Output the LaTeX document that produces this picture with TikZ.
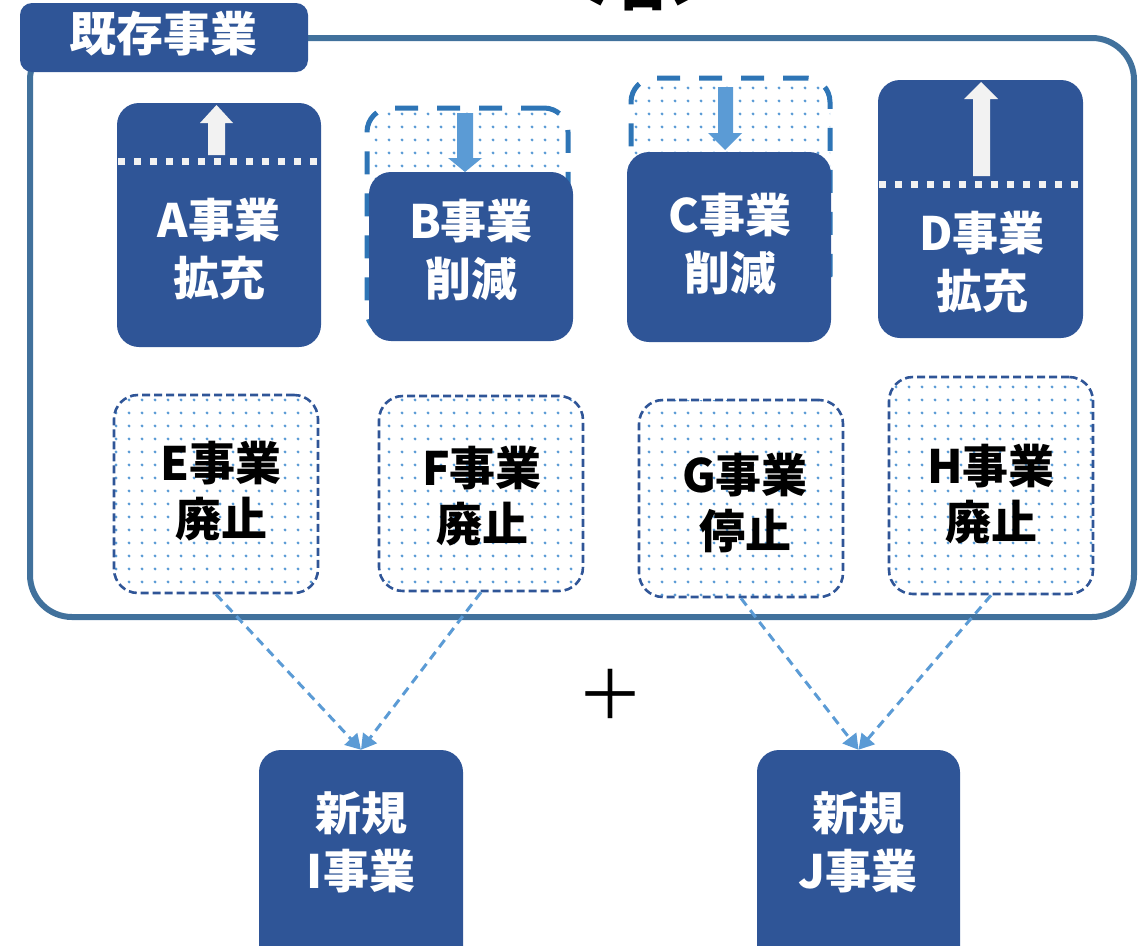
\documentclass[tikz,border=0pt]{standalone}
\usepackage{fontspec}
\newfontfamily\jp{Noto Sans CJK JP}
\usetikzlibrary{arrows.meta,patterns.meta}
\definecolor{dkblue}{RGB}{47,85,151}
\definecolor{frameblue}{RGB}{65,113,156}
\definecolor{dashblue}{RGB}{46,117,182}
\definecolor{ltblue}{RGB}{91,155,213}
\definecolor{dotwhite}{RGB}{242,242,242}
\begin{document}
\begin{tikzpicture}[x=1pt,y=-1pt,
  solidbox/.style={draw=none, fill=dkblue, rounded corners=22pt, minimum width=204pt, inner sep=0pt},
  ghostbox/.style={draw=dashblue, line width=5pt, dash pattern=on 23pt off 19pt, rounded corners=24pt,
     pattern={Dots[distance=13pt, radius=1.7pt]}, pattern color=ltblue, inner sep=0pt},
  stopbox/.style={draw=dkblue, line width=2.6pt, dash pattern=on 8pt off 4pt, rounded corners=24pt,
     pattern={Dots[distance=13pt, radius=1.7pt]}, pattern color=ltblue, minimum width=204pt, inner sep=0pt},
  wlabel/.style={font=\jp\bfseries\fontsize{46}{58}\selectfont, text=white, align=center, inner sep=0pt},
  blabel/.style={font=\jp\bfseries\fontsize{46}{56}\selectfont, text=black, align=center, inner sep=0pt},
  whitedots/.style={draw=dotwhite, line width=7pt, dash pattern=on 7pt off 9pt},
  conn/.style={draw=ltblue, line width=3pt, dash pattern=on 9pt off 6pt, -{Triangle[length=15pt,width=17pt]}},
]
\useasboundingbox (0,0) rectangle (1148,945);
\clip (0,0) rectangle (1148,945);

% title (cut off at top)
\node[font=\jp\bfseries\fontsize{58}{58}\selectfont, anchor=base, inner sep=0pt] (title) at (639,5) {＜右＞};

% frame and tag
\node[draw=frameblue, line width=6pt, rounded corners=42pt, minimum width=1104pt, minimum height=579pt, inner sep=0pt] (frame) at (582,327.5) {};
\node[fill=dkblue, rounded corners=12pt, minimum width=288pt, minimum height=69pt, inner sep=0pt] (tag) at (164,37.5) {};
\node[font=\jp\bfseries\fontsize{47}{47}\selectfont, text=white, inner sep=0pt] (tagtext) at (163,34) {既存事業};

% A
\node[solidbox, minimum height=244pt] (A) at (219,225) {};
\draw[whitedots] (A.north west) ++(1,59) -- ++(204,0);
\fill[dotwhite] (216.5,105) -- (233,123) -- (225,123) -- (225,155) -- (208,155) -- (208,123) -- (200,123) -- cycle;
\node[wlabel] (Alab) at (219,249) {A事業\\拡充};

% B
\node[ghostbox, minimum width=201pt, minimum height=227pt] (Bg) at (467.5,221.5) {};
\node[solidbox, minimum height=169pt] (B) at (471,256.5) {};
\fill[ltblue] (457,113) -- (473,113) -- (473,158) -- (482,158) -- (465,172) -- (448,158) -- (457,158) -- cycle;
\node[wlabel] (Blab) at (471,250) {B事業\\削減};

% C
\node[ghostbox, minimum width=199pt, minimum height=222pt] (Cg) at (730.5,189) {};
\node[solidbox, minimum height=190pt] (C) at (729,247) {};
\fill[ltblue] (718,87) -- (733,87) -- (733,133) -- (742,133) -- (725,150) -- (708,133) -- (718,133) -- cycle;
\node[wlabel] (Clab) at (730,244) {C事業\\削減};

% D
\node[solidbox, minimum width=205pt, minimum height=258pt] (D) at (980.5,209) {};
\draw[whitedots] (D.north west) ++(1,105) -- ++(205,0);
\fill[dotwhite] (981,82) -- (998,99) -- (990,99) -- (990,176) -- (973,176) -- (973,99) -- (964,99) -- cycle;
\node[wlabel] (Dlab) at (982,262) {D事業\\拡充};

% E-H
\node[stopbox, minimum height=198pt] (E) at (216,494) {};
\node[blabel] (Elab) at (221,491) {E事業\\廃止};
\node[stopbox, minimum height=195pt] (F) at (481,493.5) {};
\node[blabel] (Flab) at (482,496) {F事業\\廃止};
\node[stopbox, minimum height=197pt] (G) at (741,498.5) {};
\node[blabel] (Glab) at (745,503) {G事業\\停止};
\node[stopbox, minimum height=217pt] (H) at (991,485.5) {};
\node[blabel] (Hlab) at (991,494) {H事業\\廃止};

% plus
\node[font=\jp\fontsize{68}{68}\selectfont, inner sep=0pt] (plus) at (610,694) {＋};

% I, J
\node[solidbox, minimum height=240pt] (I) at (361,870) {};
\node[wlabel] (Ilab) at (361,842) {新規\\I事業};
\node[solidbox, minimum width=203pt, minimum height=240pt] (J) at (858.5,870) {};
\node[wlabel] (Jlab) at (858,842) {新規\\J事業};

% connectors
\draw[conn] (E.south) -- (I.north);
\draw[conn] (F.south) -- (I.north);
\draw[conn] (G.south) -- (J.north);
\draw[conn] (H.south) -- (J.north);
\end{tikzpicture}
\end{document}
